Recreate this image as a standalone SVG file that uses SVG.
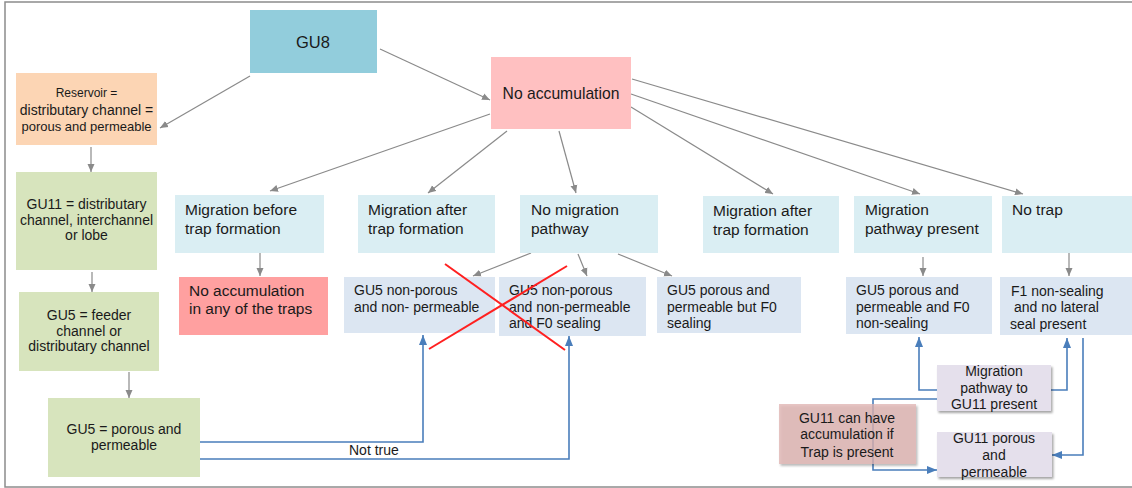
<svg xmlns="http://www.w3.org/2000/svg" width="1132" height="488" viewBox="0 0 1132 488">
<style>
text{font-family:"Liberation Sans",Arial,sans-serif;fill:#1a1a1a;}
.t14{font-size:14px;}
.t15{font-size:15.5px;}
.c{text-anchor:middle;}
.g{stroke:#8a8a8a;stroke-width:1.2;fill:none;marker-end:url(#ag);}
.b{stroke:#4a7ebb;stroke-width:1.6;fill:none;}
.ba{marker-end:url(#ab);}
.x{stroke:#ff2020;stroke-width:2;}
</style>
<defs>
<marker id="ag" markerUnits="userSpaceOnUse" markerWidth="9" markerHeight="8" refX="8" refY="4" orient="auto"><path d="M0,0.5 L8,4 L0,7.5 z" fill="#8a8a8a"/></marker>
<marker id="ab" markerUnits="userSpaceOnUse" markerWidth="11" markerHeight="9" refX="10" refY="4.5" orient="auto"><path d="M0,0.5 L10,4.5 L0,8.5 z" fill="#4a7ebb"/></marker>
<filter id="sh" x="-10%" y="-10%" width="130%" height="140%"><feDropShadow dx="1.5" dy="2" stdDeviation="1.2" flood-color="#000" flood-opacity="0.35"/></filter>
</defs>
<rect x="0" y="0" width="1132" height="488" fill="#fff"/>
<rect x="5" y="2" width="1140" height="485" fill="none" stroke="#8c8c8c" stroke-width="1.5"/>

<g id="connectors">
<line class="g" x1="250" y1="76" x2="160" y2="128"/>
<line class="g" x1="380" y1="49" x2="490" y2="100"/>
<line class="g" x1="91" y1="147" x2="91" y2="172"/>
<line class="g" x1="92" y1="272" x2="92" y2="292"/>
<line class="g" x1="129" y1="372" x2="129" y2="398"/>
<line class="g" x1="490" y1="114" x2="270" y2="191"/>
<line class="g" x1="507" y1="131" x2="428" y2="193"/>
<line class="g" x1="559" y1="131" x2="576" y2="193"/>
<line class="g" x1="631" y1="107" x2="773" y2="194"/>
<line class="g" x1="631" y1="94" x2="920" y2="194"/>
<line class="g" x1="632" y1="79" x2="1023" y2="194"/>
<line class="g" x1="260" y1="250" x2="260" y2="276"/>
<line class="g" x1="531" y1="253" x2="473" y2="276"/>
<line class="g" x1="578" y1="254" x2="587" y2="276"/>
<line class="g" x1="618" y1="254" x2="672" y2="276"/>
<line class="g" x1="923" y1="257" x2="923" y2="276"/>
<line class="g" x1="1069" y1="253" x2="1069" y2="276"/>
<polyline class="b ba" points="200,442 423,442 423,335"/>
<polyline class="b ba" points="200,459 569,459 569,336"/>
<polyline class="b ba" points="937,390 919,390 919,337"/>
<polyline class="b ba" points="1051,390 1067,390 1067,338"/>
<polyline class="b ba" points="1083,338 1083,455 1052,455"/>
<polyline class="b ba" points="937,399 873,399 873,470 937,470"/>
<text class="t14" x="349" y="455">Not true</text>
</g>

<g id="gu8"><rect x="250" y="10" width="127" height="63" fill="#92cddc"/><text class="c" x="313" y="48" font-size="16.5">GU8</text></g>
<g id="reservoir"><rect x="16" y="73" width="141" height="72" fill="#fcd5b4"/>
<text class="c" x="86.5" y="97" font-size="12">Reservoir =</text>
<text class="c" x="86.5" y="115" font-size="14">distributary channel =</text>
<text class="c" x="86.5" y="131" font-size="13">porous and permeable</text></g>
<g id="gu11"><rect x="16" y="172" width="141" height="98" fill="#d7e4bd"/>
<text class="c t14" x="86.5" y="209">GU11 = distributary</text>
<text class="c t14" x="86.5" y="225">channel, interchannel</text>
<text class="c t14" x="86.5" y="240">or lobe</text></g>
<g id="gu5feeder"><rect x="19" y="292" width="140" height="79" fill="#d7e4bd"/>
<text class="c t14" x="89" y="320">GU5 = feeder</text>
<text class="c t14" x="89" y="336">channel or</text>
<text class="c t14" x="89" y="351">distributary channel</text></g>
<g id="gu5porous"><rect x="48" y="398" width="152" height="79" fill="#d7e4bd"/>
<text class="c t14" x="124" y="434">GU5 = porous and</text>
<text class="c t14" x="124" y="450">permeable</text></g>
<g id="noacc"><rect x="491" y="57" width="140" height="72" fill="#ffc0c1"/><text class="c" x="561" y="99" font-size="15.7">No accumulation</text></g>

<g id="migbefore"><rect x="175" y="195" width="149" height="58" fill="#daeef3"/>
<text class="t15" x="185" y="214.5">Migration before</text><text class="t15" x="185" y="233.5">trap formation</text></g>
<g id="migafter1"><rect x="358" y="195" width="137" height="58" fill="#daeef3"/>
<text class="t15" x="368" y="214.5">Migration after</text><text class="t15" x="368" y="233.5">trap formation</text></g>
<g id="nomig"><rect x="520" y="195" width="138" height="58" fill="#daeef3"/>
<text class="t15" x="531" y="214.5">No migration</text><text class="t15" x="531" y="233.5">pathway</text></g>
<g id="migafter2"><rect x="703" y="196" width="136" height="57" fill="#daeef3"/>
<text class="t15" x="713" y="216">Migration after</text><text class="t15" x="713" y="235">trap formation</text></g>
<g id="migpath"><rect x="854" y="196" width="138" height="57" fill="#daeef3"/>
<text class="t15" x="865" y="215">Migration</text><text class="t15" x="865" y="234">pathway present</text></g>
<g id="notrap"><rect x="1002" y="196" width="140" height="57" fill="#daeef3"/>
<text class="t15" x="1012" y="215">No trap</text></g>

<g id="noaccany"><rect x="179" y="277" width="149" height="58" fill="#ffa0a0"/>
<text class="t15" x="189" y="295.5">No accumulation</text><text class="t15" x="189" y="313.5">in any of the traps</text></g>
<g id="gu5np1"><rect x="344" y="277" width="151" height="56" fill="#dce6f2"/>
<text class="t14" x="354" y="295">GU5 non-porous</text><text class="t14" x="354" y="312">and non- permeable</text></g>
<g id="gu5np2"><rect x="499" y="277" width="147" height="59" fill="#dce6f2"/>
<text class="t14" x="509" y="295">GU5 non-porous</text><text class="t14" x="509" y="312">and non-permeable</text><text class="t14" x="509" y="328">and F0 sealing</text></g>
<g id="gu5ps"><rect x="657" y="277" width="144" height="56" fill="#dce6f2"/>
<text class="t14" x="667" y="295">GU5 porous and</text><text class="t14" x="667" y="312">permeable but F0</text><text class="t14" x="667" y="328">sealing</text></g>
<g id="gu5pns"><rect x="846" y="277" width="146" height="57" fill="#dce6f2"/>
<text class="t14" x="856" y="295">GU5 porous and</text><text class="t14" x="856" y="312">permeable and F0</text><text class="t14" x="856" y="328">non-sealing</text></g>
<g id="f1"><rect x="1000" y="277" width="142" height="58" fill="#dce6f2"/>
<text class="t14" x="1011" y="296">F1 non-sealing</text><text class="t14" x="1014" y="312">and no lateral</text><text class="t14" x="1010" y="329">seal present</text></g>

<g id="cross"><line class="x" x1="445" y1="264" x2="565" y2="350"/><line class="x" x1="567" y1="266" x2="429" y2="349"/></g>

<g id="migpathgu11"><rect x="937" y="365" width="114" height="46" fill="#e5e0ec" filter="url(#sh)"/>
<text class="c t14" x="994" y="376">Migration</text><text class="c t14" x="994" y="393">pathway to</text><text class="c t14" x="994" y="409">GU11 present</text></g>
<g id="gu11pp"><rect x="937" y="432" width="115" height="45" fill="#e5e0ec" filter="url(#sh)"/>
<text class="c t14" x="994" y="443">GU11 porous</text><text class="c t14" x="994" y="460">and</text><text class="c t14" x="994" y="477">permeable</text></g>
<g id="gu11acc"><rect x="779" y="404" width="137" height="60" fill="#dfb1b0" fill-opacity="0.75" filter="url(#sh)"/>
<text class="c t14" x="847" y="423">GU11 can have</text><text class="c t14" x="847" y="439">accumulation if</text><text class="c t14" x="847" y="457">Trap is present</text></g>
</svg>
